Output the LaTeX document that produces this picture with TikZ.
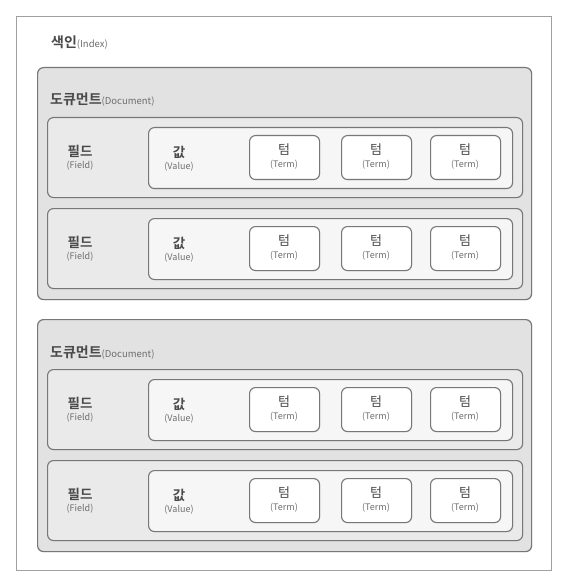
\documentclass[tikz,border=0pt]{standalone}
\usepackage{fontspec}
\setmainfont{Noto Sans CJK KR}[BoldFont={Noto Sans CJK KR Bold}]
\usetikzlibrary{shadows}
\definecolor{outerc}{HTML}{A0A0A0}
\definecolor{linec}{HTML}{777777}
\definecolor{docfill}{HTML}{E2E2E2}
\definecolor{fieldfill}{HTML}{EAEAEA}
\definecolor{valfill}{HTML}{F6F6F6}
\definecolor{titlec}{HTML}{4A4A4A}
\definecolor{subc}{HTML}{6E6E6E}
\begin{document}
\begin{tikzpicture}[x=1pt,y=-1pt,
  boxbase/.style={draw=linec, line width=1.1pt, rounded corners=6pt, inner sep=0pt, anchor=north west,
    drop shadow={opacity=0.12, shadow xshift=0.8pt, shadow yshift=-0.8pt}},
  outerbox/.style={draw=outerc, line width=0.9pt, fill=white, inner sep=0pt, anchor=north west},
  docbox/.style={boxbase, fill=docfill, line width=1.2pt, minimum width=494pt, minimum height=232pt},
  fieldbox/.style={boxbase, fill=fieldfill, minimum width=475pt, minimum height=80pt},
  valbox/.style={boxbase, fill=valfill, minimum width=364pt, minimum height=61pt},
  termbox/.style={boxbase, fill=white, minimum width=70pt, minimum height=44pt},
  ttl/.style={font=\bfseries\fontsize{13.5}{13.5}\selectfont, text=titlec, inner sep=0pt},
  termttl/.style={font=\fontsize{13}{13}\selectfont, text=titlec, inner sep=0pt},
  sub/.style={font=\fontsize{9}{9}\selectfont, text=subc, inner sep=0pt}
]
\useasboundingbox (0,0) rectangle (572,585);
\node[outerbox, minimum width=535pt, minimum height=554pt] (index) at (16,16) {};
\node[anchor=base west, inner sep=0pt, text=titlec] (indext) at (51,48)
  {{\bfseries\fontsize{14}{14}\selectfont 색인}{\fontsize{9.5}{9.5}\selectfont\color{subc}(Index)}};
\foreach \d in {1,2}{
  \pgfmathsetmacro\yd{67+252*(\d-1)}
  \node[docbox] (doc\d) at (37,\yd) {};
  \node[anchor=base west, inner sep=0pt, text=titlec] (doct\d) at (50,\yd+38)
    {{\bfseries\fontsize{14}{14}\selectfont 도큐먼트}{\fontsize{9.5}{9.5}\selectfont\color{subc}(Document)}};
  \foreach \f in {1,2}{
    \pgfmathsetmacro\yf{\yd+50+91*(\f-1)}
    \node[fieldbox] (field\d\f) at (47,\yf) {};
    \node[ttl] (fieldt\d\f) at (80,\yf+34) {필드};
    \node[sub] (fields\d\f) at (80,\yf+49) {(Field)};
    \node[valbox] (val\d\f) at (148,\yf+10) {};
    \node[ttl] (valt\d\f) at (179,\yf+35) {값};
    \node[sub] (vals\d\f) at (179,\yf+50) {(Value)};
    \foreach \t/\tx in {1/249,2/341,3/430}{
      \node[termbox] (term\d\f\t) at (\tx,\yf+18) {};
      \node[termttl] (termt\d\f\t) at (\tx+35,\yf+33) {텀};
      \node[sub] (terms\d\f\t) at (\tx+35,\yf+48) {(Term)};
    }
  }
}
\end{tikzpicture}
\end{document}
